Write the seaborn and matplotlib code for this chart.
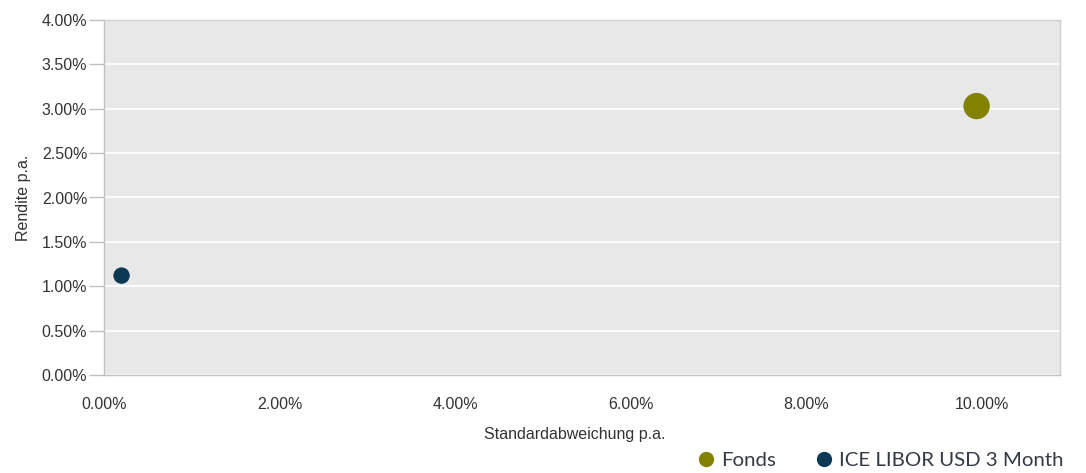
import matplotlib
matplotlib.use("Agg")
import matplotlib.pyplot as plt
import seaborn as sns
import pandas as pd
from matplotlib.lines import Line2D
from matplotlib.ticker import FuncFormatter, MultipleLocator

series = ["Fonds", "ICE LIBOR USD 3 Month"]
std_dev = [9.94, 0.20]
returns = [3.03, 1.12]
colors = ["#838100", "#0c3a55"]
marker_sizes = [360, 140]

df = pd.DataFrame({"series": series, "std": std_dev, "ret": returns})

sns.set_theme(style="white")
plt.rcParams["font.family"] = ["Liberation Sans", "DejaVu Sans"]

fig = plt.figure(figsize=(10.86, 4.73), dpi=100)
ax = fig.add_axes([104/1086, 1-375/473, (1060-104)/1086, (375-20)/473])
ax.set_facecolor("#e8e8e8")

for s, c, ms in zip(series, colors, marker_sizes):
    sub = df[df["series"] == s]
    sns.scatterplot(data=sub, x="std", y="ret", color=c, s=ms, ax=ax,
                    edgecolor="none", legend=False, zorder=3)

ax.set_xlim(0, 10.89)
ax.set_ylim(0, 4.0)
ax.xaxis.set_major_locator(MultipleLocator(2))
ax.yaxis.set_major_locator(MultipleLocator(0.5))
fmt = FuncFormatter(lambda v, p: f"{v:.2f}%")
ax.xaxis.set_major_formatter(fmt)
ax.yaxis.set_major_formatter(fmt)
ax.grid(axis="y", color="white", linewidth=1.2, zorder=1)
ax.grid(axis="x", visible=False)
ax.set_axisbelow(True)

for sp in ax.spines.values():
    sp.set_color("#d0d0d0")
    sp.set_linewidth(1)
ax.spines["left"].set_color("#c0c0c0")
ax.spines["bottom"].set_color("#c0c0c0")

ax.tick_params(axis="y", left=True, length=11, width=1, color="#c0c0c0",
               labelsize=11.5, labelcolor="#333333", pad=1)
ax.tick_params(axis="x", bottom=False, labelsize=11.5, labelcolor="#333333", pad=10)

ax.set_xlabel("Standardabweichung p.a.", fontsize=11.5, color="#333333", labelpad=9)
ax.xaxis.set_label_coords(0.492, -0.147)
ax.set_ylabel("Rendite p.a.", fontsize=11.5, color="#333333", labelpad=8)

handles = [Line2D([0], [0], marker="o", linestyle="", markersize=11,
                  markerfacecolor=c, markeredgecolor="none") for c in colors]
leg = fig.legend(handles, series, loc="center right",
                 bbox_to_anchor=(1068/1086, 1-460/473),
                 ncol=2, frameon=False, handletextpad=0.2, columnspacing=1.8,
                 prop={"family": "Lato", "size": 14.7}, handlelength=1.1,
                 borderaxespad=0.0, borderpad=0.2)
for t in leg.get_texts():
    t.set_color("#333a45")

fig.savefig("out.png", dpi=100)
